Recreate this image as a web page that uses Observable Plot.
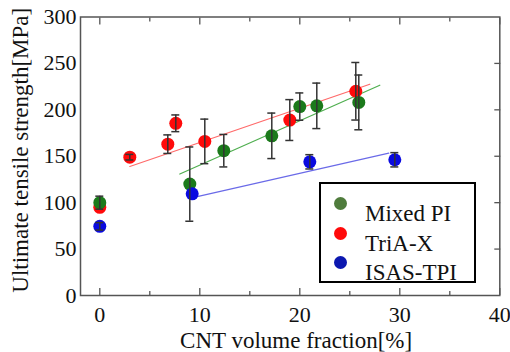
<!DOCTYPE html>
<html><head><meta charset="utf-8">
<script src="https://cdn.jsdelivr.net/npm/d3@7"></script>
<script src="https://cdn.jsdelivr.net/npm/@observablehq/plot@0.6"></script>
<style>
body{margin:0;background:#fff;}
#wrap{position:relative;width:510px;height:352px;font-family:'Liberation Serif','Times New Roman',serif;}
#wrap svg, #wrap svg text{font-family:'Liberation Serif','Times New Roman',serif !important;}
#legend{position:absolute;left:319px;top:182px;width:153px;height:97px;border:2px solid #000;background:#fff;}
.row{position:absolute;left:0;height:30px;width:150px;}
.dot{position:absolute;left:13px;width:13px;height:13px;border-radius:50%;}
.lab{position:absolute;left:44px;font-size:23px;line-height:23px;color:#111;white-space:nowrap;}
</style>
</head><body><div id="wrap"></div>
<script>
// series
const seriesNames = ["Mixed PI", "TriA-X", "ISAS-TPI"];
const dotColors = ["#1b7a1b", "#ff0a0a", "#0a0ae0"];
const legendColors = ["#4f7c3c", "#ff0a0a", "#0c18b0"];
const fitColors = ["#4fae4f", "#ff6a6a", "#6a6ae8"];

// Mixed PI
const mixedX = [0, 9.0, 12.4, 17.2, 20.0, 21.7, 25.9];
const mixedY = [100, 120, 156, 172, 203.5, 204.3, 208];
const mixedErr = [7, 40, 17.5, 24.5, 14.7, 24.5, 29.5];
// TriA-X
const triaX = [0, 3.0, 6.8, 7.6, 10.5, 19.0, 25.6];
const triaY = [95, 149, 163, 185.5, 166, 189, 220];
const triaErr = [0, 3, 10, 9, 24, 22, 31];
// ISAS-TPI
const isasX = [0, 9.24, 21.0, 29.5];
const isasY = [74.5, 109.5, 144, 146.2];
const isasErr = [4, 0, 7.7, 7.7];

// fitted lines (end points)
const mixedFitX = [8.0, 28.0], mixedFitY = [130.8, 226.5];
const triaFitX = [3.0, 27.0], triaFitY = [139, 227.6];
const isasFitX = [9.3, 28.9], isasFitY = [105.5, 153.4];

// axes
const xTickLabels = [0, 10, 20, 30, 40];
const xMinorTicks = [5, 15, 25, 35];
const yTickLabels = [0, 50, 100, 150, 200, 250, 300];
const yRightTicks = [50, 100, 150, 200, 250];
const xTitle = "CNT volume fraction[%]";
const yTitle = "Ultimate tensile strength[MPa]";

const xs = [mixedX, triaX, isasX], ys = [mixedY, triaY, isasY], es = [mixedErr, triaErr, isasErr];
const fx = [mixedFitX, triaFitX, isasFitX], fy = [mixedFitY, triaFitY, isasFitY];
const pts = seriesNames.map((s, k) => xs[k].map((x, i) => ({s, k, x, y: ys[k][i], e: es[k][i]})));
const fits = seriesNames.map((s, k) => fx[k].map((x, i) => ({s, k, x, y: fy[k][i]})));
const drawOrder = [1, 0, 2]; // TriA-X, Mixed PI, ISAS-TPI
const allPts = drawOrder.flatMap(k => pts[k]);
const errPts = allPts.filter(d => d.e > 0);
const serif = "'Liberation Serif','Times New Roman',serif";

const plot = Plot.plot({
  width: 510, height: 352,
  marginLeft: 80, marginRight: 10.7, marginTop: 16.5, marginBottom: 57,
  style: {fontFamily: serif, fontSize: "22px", color: "#111", background: "#fff"},
  x: {domain: [-1.93, 40]},
  y: {domain: [0, 300]},
  marks: [
    ...fits.map((f, k) => Plot.line(f, {x: "x", y: "y", stroke: fitColors[k], strokeWidth: 1.2})),
    Plot.dot(allPts, {x: "x", y: "y", r: 6.5, fill: d => dotColors[d.k]}),
    Plot.ruleX(errPts, {x: "x", y1: d => d.y - d.e, y2: d => d.y + d.e, stroke: "#333", strokeWidth: 1.5}),
    Plot.ruleY(errPts, {x1: "x", x2: "x", y: d => d.y - d.e, insetLeft: -4, insetRight: -4, stroke: "#333", strokeWidth: 1.5}),
    Plot.ruleY(errPts, {x1: "x", x2: "x", y: d => d.y + d.e, insetLeft: -4, insetRight: -4, stroke: "#333", strokeWidth: 1.5}),
    Plot.axisX(xTickLabels, {anchor: "bottom", tickSize: 0, tickPadding: 11, label: null, fontFamily: serif, fontSize: 22}),
    Plot.axisY(yTickLabels, {anchor: "left", tickSize: 0, tickPadding: 4, label: null, fontFamily: serif, fontSize: 22}),
    Plot.axisX(xTickLabels, {anchor: "bottom", tickSize: -7, fill: "none", label: null, stroke: "#555", strokeWidth: 1.3}),
    Plot.axisX(xMinorTicks, {anchor: "bottom", tickSize: -4, fill: "none", label: null, stroke: "#555", strokeWidth: 1.3}),
    Plot.axisX(xTickLabels, {anchor: "top", tickSize: -7, fill: "none", label: null, stroke: "#555", strokeWidth: 1.3}),
    Plot.axisX(xMinorTicks, {anchor: "top", tickSize: -4, fill: "none", label: null, stroke: "#555", strokeWidth: 1.3}),
    Plot.axisY(yRightTicks, {anchor: "right", tickSize: -6, fill: "none", label: null, stroke: "#555", strokeWidth: 1.3}),
    Plot.frame({stroke: "#555", strokeWidth: 1.5}),
    Plot.text([xTitle], {text: d => d, frameAnchor: "bottom", textAnchor: "middle", lineAnchor: "middle", dx: 6, dy: 45, fontSize: 23, fontFamily: serif, fill: "#111"}),
    Plot.text([yTitle], {text: d => d, frameAnchor: "left", textAnchor: "middle", lineAnchor: "middle", rotate: -90, dx: -60, dy: -6, fontSize: 23, fontFamily: serif, fill: "#111"})
  ]
});
const wrap = document.getElementById("wrap");
wrap.appendChild(plot);

// legend
const legend = document.createElement("div");
legend.id = "legend";
seriesNames.forEach((name, k) => {
  const row = document.createElement("div");
  row.className = "row";
  row.style.top = (k * 29.5) + "px";
  const dot = document.createElement("div");
  dot.className = "dot";
  dot.style.top = "13px";
  dot.style.background = legendColors[k];
  const lab = document.createElement("div");
  lab.className = "lab";
  lab.style.top = "18px";
  lab.textContent = name;
  row.appendChild(dot); row.appendChild(lab);
  legend.appendChild(row);
});
wrap.appendChild(legend);
</script>
</body></html>
